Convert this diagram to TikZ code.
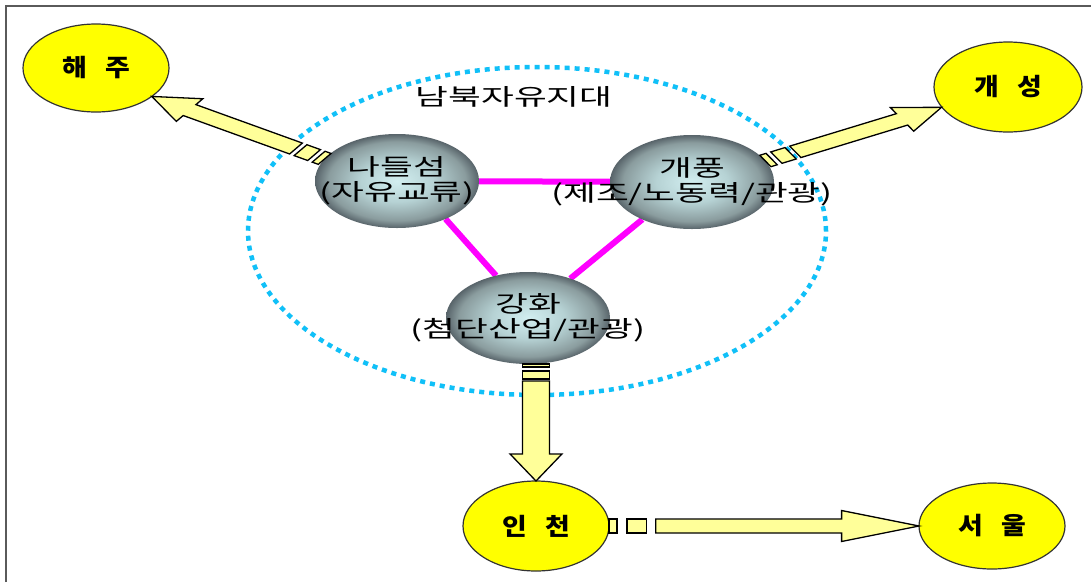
\documentclass[tikz,border=0pt]{standalone}
\usepackage{fontspec}
\usetikzlibrary{shapes.geometric,backgrounds}

% Korean faces: plain one for the hub labels, bold one for the city names
\newfontfamily\krtext[FakeStretch=1.55]{Noto Sans CJK KR}
\newfontfamily\krtitle[FakeStretch=1.12,WordSpace=3.0]{Noto Sans CJK KR}

\definecolor{cityyellow}{HTML}{FFFF00}
\definecolor{arrowyellow}{HTML}{FFFF99}
\definecolor{linkmagenta}{HTML}{FF00FF}
\definecolor{zoneblue}{HTML}{10C0F8}
\definecolor{framegray}{HTML}{5A5A5A}
\definecolor{sphA}{HTML}{D2EEF0}
\definecolor{sphB}{HTML}{B6D2D4}
\definecolor{sphC}{HTML}{8A9C9E}
\definecolor{sphD}{HTML}{58646A}

% metallic ball look for the three hubs
\pgfdeclareradialshading{sphereshade}{\pgfpoint{0bp}{0bp}}{%
  color(0bp)=(sphA); color(11bp)=(sphB); color(21bp)=(sphC);
  color(25bp)=(sphD); color(50bp)=(sphD)}

\tikzset{
  city/.style={ellipse, draw=black!80, line width=1.2pt, fill=cityyellow,
    inner sep=0pt, outer sep=0pt,
    font=\krtitle\bfseries\fontsize{24}{28}\selectfont},
  hub/.style={ellipse, inner sep=0pt, outer sep=0pt, shade, shading=sphereshade,
    minimum width=164pt, minimum height=94pt},
  hubtext/.style={align=center, inner sep=0pt,
    font=\krtext\fontsize{23}{25}\selectfont},
  link/.style={draw=linkmagenta, line width=6pt},
  zone/.style={ellipse, draw=zoneblue, line width=4.5pt,
    dash pattern=on 5pt off 5pt, inner sep=0pt,
    minimum width=578pt, minimum height=328pt},
  bigarrow/.style={draw=black, fill=arrowyellow, line width=1.3pt, line join=miter},
}

% striped block arrow from a tail point to a tip point;
% the shape is laid out in an unstretched frame and widened horizontally
\def\stretchx{1.8}
\pgfkeys{/sarrow/.is family, /sarrow/.cd,
  w/.store in=\saW, h/.store in=\saH, hl/.store in=\saHL,
  thin/.store in=\saA, gapa/.store in=\saB, thick/.store in=\saC, gapb/.store in=\saD}
\pgfkeys{/sarrow/.cd, w=7, h=14, hl=27, thin=3, gapa=3, thick=8, gapb=2}
\newcommand\stripedarrow[3][]{%
  \begingroup
  \pgfkeys{/sarrow/.cd,#1}%
  \path (#2) coordinate (satail) (#3) coordinate (satip);
  \pgfpointdiff{\pgfpointanchor{satail}{center}}{\pgfpointanchor{satip}{center}}%
  \pgfgetlastxy{\saDX}{\saDY}%
  \pgfmathsetmacro\saAng{atan2(\saDY,\saDX/\stretchx)}%
  \pgfmathsetmacro\saLen{veclen(\saDX/\stretchx,\saDY)}%
  \pgfmathsetmacro\saP{\saA+\saB}%
  \pgfmathsetmacro\saQ{\saP+\saC}%
  \pgfmathsetmacro\saR{\saQ+\saD}%
  \pgfmathsetmacro\saS{\saLen-\saHL}%
  \begin{scope}[shift={(satail)}, xscale=\stretchx, rotate=\saAng, x=1pt, y=1pt]
    \draw[bigarrow] (\saR,-\saW) -- (\saS,-\saW) -- (\saS,-\saH) -- (\saLen,0)
      -- (\saS,\saH) -- (\saS,\saW) -- (\saR,\saW) -- cycle;
    \draw[bigarrow] (\saP,-\saW) rectangle (\saQ,\saW);
    \draw[bigarrow] (0,-\saW) rectangle (\saA,\saW);
  \end{scope}
  \endgroup}

\begin{document}
\begin{tikzpicture}[x=1pt,y=-1pt]
\useasboundingbox (0,0) rectangle (1091,582);

% frame edges
\draw[framegray, line width=2pt] (6,582) -- (6,6) -- (1091,6);

% free zone
\node[zone] (zone) at (537,231) {};
\node[hubtext] (zonelabel) at (514,97) {남북자유지대};

% hubs
\node[hub] (nadeul) at (397,181) {};
\node[hub] (gaepung) at (692,182) {};
\node[hub, minimum height=92pt] (ganghwa) at (528,318) {};

\node[hubtext] (nadeult) at (nadeul) {나들섬\\(자유교류)};
\node[hubtext] (gaepungt) at (gaepung) {개풍\\(제조/노동력/관광)};
\node[hubtext] (ganghwat) at (ganghwa) {강화\\(첨단산업/관광)};

% links between the hubs, kept behind the balls
\begin{pgfonlayer}{background}
  \fill[white] (0,0) rectangle (1091,582);
  \path[link] (nadeul.center) -- (gaepung.center);
  \path[link] (nadeul.-38) -- (ganghwa.127.5);
  \path[link] (gaepung.-143) -- (ganghwa.43.7);
\end{pgfonlayer}

% cities
\node[city, minimum width=146pt, minimum height=88pt] (haeju) at (96,68) {해 주};
\node[city, minimum width=148pt, minimum height=90pt] (gaeseong) at (1008,87) {개 성};
\node[city, minimum width=146pt, minimum height=90pt] (incheon) at (536,526) {인 천};
\node[city, minimum width=146pt, minimum height=86pt] (seoul) at (992,526) {서 울};

% flows
\stripedarrow[w=6.5, h=13.5, hl=25, thin=4, gapa=3, thick=9, gapb=3]{nadeul.163}{haeju.-27}
\stripedarrow[w=6.5, h=13.5, hl=25, thin=4, gapa=3, thick=9, gapb=3]{gaepung.16.5}{gaeseong.-163.5}
\stripedarrow[w=7.5, h=14.4, hl=27, thin=3, gapa=4, thick=8, gapb=2]{ganghwa.south -| incheon.north}{incheon.north}
\stripedarrow[w=7, h=15.5, hl=43, thin=4.5, gapa=5.5, thick=11, gapb=5]{incheon.east}{seoul.west}
\end{tikzpicture}
\end{document}
